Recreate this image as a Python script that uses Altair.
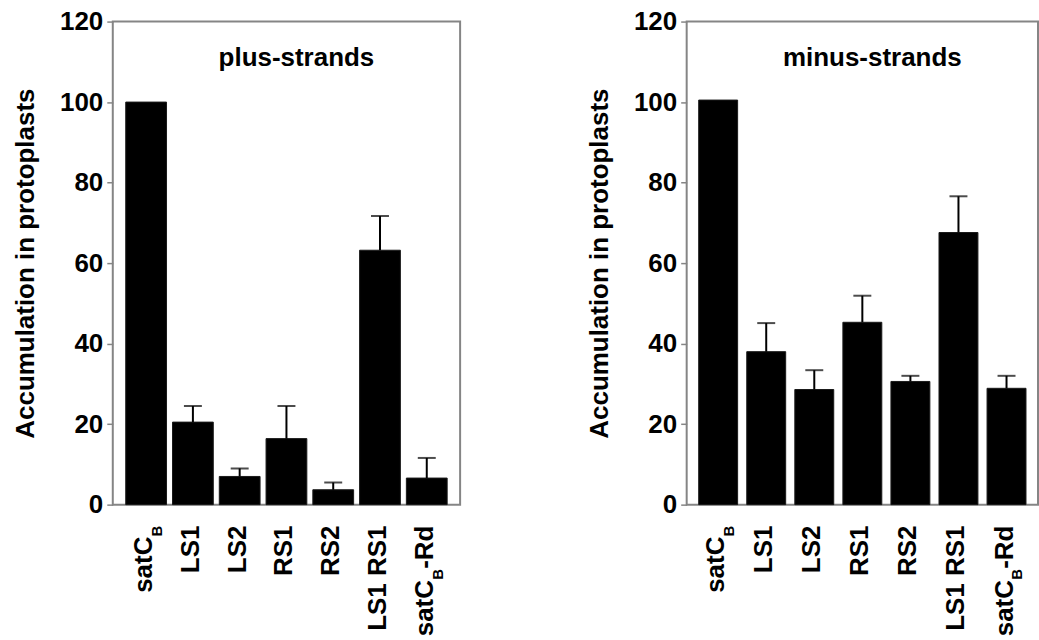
import altair as alt
import pandas as pd

# ---- data ----
categories = ["satCB", "LS1", "LS2", "RS1", "RS2", "LS1 RS1", "satCB-Rd"]
label_main = ["satC", "LS1", "LS2", "RS1", "RS2", "LS1 RS1", "satC"]
label_sub = ["B", "", "", "", "", "", "B"]
label_tail = ["", "", "", "", "", "", "-Rd"]

plus_values = [100.0, 20.5, 7.0, 16.4, 3.7, 63.2, 6.6]
plus_errors = [0.0, 4.0, 2.0, 8.1, 1.8, 8.5, 5.0]
minus_values = [100.5, 38.0, 28.6, 45.3, 30.6, 67.6, 28.9]
minus_errors = [0.0, 7.1, 4.8, 6.6, 1.4, 9.0, 3.1]

y_ticks = [0, 20, 40, 60, 80, 100, 120]
panel_titles = ["plus-strands", "minus-strands"]
y_title = "Accumulation in protoplasts"

FONT = "Liberation Sans"
H = 484
FS = 26
SUB_FS = 15
FRAME = "#858585"


def panel(values, errors, title, width, pad_inner, pad_outer):
    df = pd.DataFrame({
        "cat": categories, "value": values, "err": errors,
        "main": label_main, "sub": label_sub, "tail": label_tail,
    })
    df["top"] = df["value"] + df["err"]

    xenc = alt.X("cat:N", sort=categories, axis=None,
                 scale=alt.Scale(paddingInner=pad_inner, paddingOuter=pad_outer))
    yscale = alt.Scale(domain=[0, 120], nice=False, zero=True)
    yaxis = alt.Axis(values=y_ticks, title=y_title, grid=False, domain=False,
                     tickColor=FRAME, tickSize=6, tickWidth=1.5,
                     labelFont=FONT, labelFontSize=FS, labelFontWeight="bold",
                     labelColor="black", labelPadding=4,
                     titleFont=FONT, titleFontSize=FS, titleFontWeight="bold",
                     titleColor="black", titlePadding=21)

    base = alt.Chart(df)
    bars = base.mark_bar(color="black", stroke="#1a1a1a", strokeWidth=1).encode(
        x=xenc, y=alt.Y("value:Q", scale=yscale, axis=yaxis))

    errdf = df[df["err"] > 0]
    stems = alt.Chart(errdf).mark_rule(color="black", strokeWidth=2).encode(
        x=xenc, y=alt.Y("value:Q", scale=yscale, axis=yaxis), y2="top:Q")
    caps = alt.Chart(errdf).mark_tick(color="black", thickness=2, size=18).encode(
        x=xenc, y=alt.Y("top:Q", scale=yscale, axis=yaxis))

    ylab = alt.value(H + 21)
    txt = dict(angle=270, align="right", baseline="alphabetic", font=FONT,
               fontWeight="bold", color="black")

    plain = base.transform_filter("datum.sub == ''").mark_text(
        dy=6, fontSize=FS, **txt).encode(x=xenc, y=ylab, text="main:N")
    # subscripted label without tail: satC_B
    sub1 = base.transform_filter("datum.sub != '' && datum.tail == ''").mark_text(
        dy=16, fontSize=SUB_FS, **txt).encode(x=xenc, y=ylab, text="sub:N")
    main1 = base.transform_filter("datum.sub != '' && datum.tail == ''").mark_text(
        dx=-11, dy=6, fontSize=FS, **txt).encode(x=xenc, y=ylab, text="main:N")
    # subscripted label with tail: satC_B-Rd
    tail2 = base.transform_filter("datum.tail != ''").mark_text(
        dy=6, fontSize=FS, **txt).encode(x=xenc, y=ylab, text="tail:N")
    sub2 = base.transform_filter("datum.tail != ''").mark_text(
        dx=-43.5, dy=16, fontSize=SUB_FS, **txt).encode(x=xenc, y=ylab, text="sub:N")
    main2 = base.transform_filter("datum.tail != ''").mark_text(
        dx=-54.5, dy=6, fontSize=FS, **txt).encode(x=xenc, y=ylab, text="main:N")

    ttl = alt.Chart(pd.DataFrame({"t": [title]})).mark_text(
        font=FONT, fontSize=FS, fontWeight="bold", color="black",
        align="center", baseline="middle").encode(
        text="t:N", x=alt.value(width / 2 + 10), y=alt.datum(111))

    return alt.layer(bars, stems, caps, plain, sub1, main1, tail2, sub2, main2, ttl).properties(
        width=width, height=H,
        view=alt.ViewConfig(stroke=FRAME, strokeWidth=2))


left = panel(plus_values, plus_errors, panel_titles[0], 348, 0.128, 0.277)
right = panel(minus_values, minus_errors, panel_titles[1], 352, 0.19, 0.25)

chart = alt.hconcat(left, right, spacing=124).properties(
    padding={"left": 11, "top": 7, "right": 0, "bottom": 0}
).configure_view(stroke=FRAME, strokeWidth=2).configure(background="white")

chart.save("out.html", embed_options={"renderer": "svg", "actions": False})
